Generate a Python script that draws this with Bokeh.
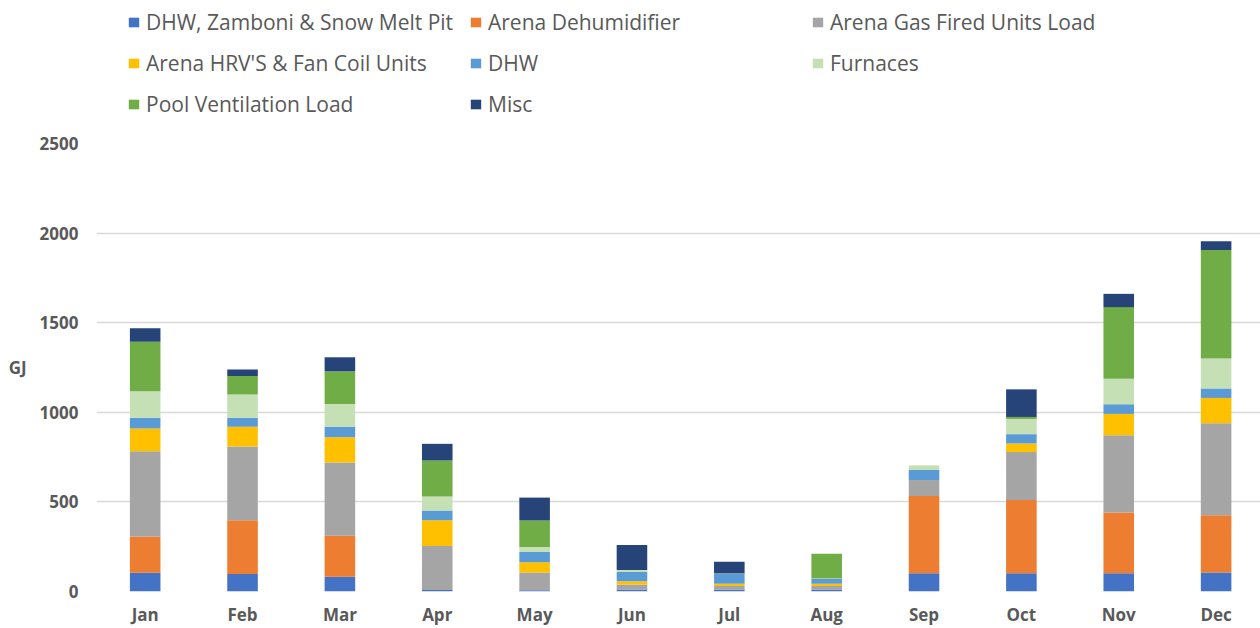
from bokeh.plotting import figure
from bokeh.layouts import column
from bokeh.models import (ColumnDataSource, Range1d, FixedTicker, Legend, LegendItem, Label)
from bokeh.embed import file_html
from bokeh.resources import INLINE

months = ["Jan", "Feb", "Mar", "Apr", "May", "Jun", "Jul", "Aug", "Sep", "Oct", "Nov", "Dec"]

series_names = [
    "DHW, Zamboni & Snow Melt Pit",
    "Arena Dehumidifier",
    "Arena Gas Fired Units Load",
    "Arena HRV'S & Fan Coil Units",
    "DHW",
    "Furnaces",
    "Pool Ventilation Load",
    "Misc",
]

dhw_zamboni = [104, 98, 83, 9, 7, 11, 11, 11, 102, 102, 102, 106]
arena_dehumidifier = [203, 300, 228, 0, 0, 0, 0, 0, 431, 409, 339, 320]
arena_gas_fired = [475, 411, 409, 245, 99, 28, 20, 20, 89, 267, 431, 513]
arena_hrv_fan_coil = [127, 111, 141, 144, 57, 18, 12, 12, 0, 48, 119, 141]
dhw = [60, 49, 59, 54, 57, 52, 55, 27, 56, 52, 54, 53]
furnaces = [148, 131, 126, 78, 28, 11, 3, 3, 26, 85, 142, 167]
pool_ventilation = [276, 102, 182, 201, 148, 0, 0, 137, 0, 11, 400, 606]
misc = [76, 37, 79, 93, 128, 139, 65, 0, 0, 154, 74, 48]

y_ticks = [0, 500, 1000, 1500, 2000, 2500]
y_label = "GJ"

colors = ["#4472C4", "#ED7D31", "#A5A5A5", "#FFC000", "#5B9BD5", "#C5E0B4", "#70AD47", "#264478"]

keys = ["s0", "s1", "s2", "s3", "s4", "s5", "s6", "s7"]
data = dict(x=list(range(len(months))))
for k, vals in zip(keys, [dhw_zamboni, arena_dehumidifier, arena_gas_fired, arena_hrv_fan_coil,
                          dhw, furnaces, pool_ventilation, misc]):
    data[k] = vals
source = ColumnDataSource(data)

FONT = "Open Sans"
GREY = "#595959"

# ---------------- legend strip (separate figure on top) ----------------
LEG_H = 133
lf = figure(width=1260, height=LEG_H, output_backend="svg", toolbar_location=None,
            x_range=Range1d(0, 1), y_range=Range1d(0, 1),
            min_border_left=0, min_border_right=0, min_border_top=0, min_border_bottom=0)
lf.axis.visible = False
lf.grid.visible = False
lf.outline_line_color = None
lf.border_fill_color = "white"
lf.background_fill_color = "white"
# swatch-only renderers (kept outside the visible range) that carry the legend colours
swatch_src = ColumnDataSource(dict(x=[-10], top=[0]))
dummy = [lf.vbar(x="x", top="top", width=0.1, source=swatch_src, color=c, line_color=None)
         for c in colors]
items = [LegendItem(label=n, renderers=[r]) for n, r in zip(series_names, dummy)]
legend = Legend(items=items, orientation="horizontal", ncols=3,
                location=(31, 15), padding=0, margin=0, spacing=12,
                glyph_width=13, glyph_height=12, label_standoff=6,
                label_width=311, label_height=29,
                label_text_font=FONT, label_text_font_size="21px", label_text_color=GREY,
                border_line_color=None, background_fill_alpha=0)
lf.add_layout(legend, "center")

# ---------------- main chart ----------------
p = figure(width=1260, height=628 - LEG_H, output_backend="svg", toolbar_location=None,
           x_range=Range1d(-0.5, 11.456), y_range=Range1d(0, y_ticks[-1]),
           min_border_left=96, min_border_right=0, min_border_top=10, min_border_bottom=37)
p.outline_line_color = None
p.background_fill_color = "white"
p.border_fill_color = "white"

renderers = p.vbar_stack(keys, x="x", width=0.314, source=source, color=colors, line_color=None)

p.xaxis.ticker = FixedTicker(ticks=list(range(len(months))))
p.xaxis.major_label_overrides = {i: m for i, m in enumerate(months)}
p.yaxis.ticker = FixedTicker(ticks=y_ticks)
for ax in (p.xaxis[0], p.yaxis[0]):
    ax.axis_line_color = None
    ax.major_tick_line_color = None
    ax.minor_tick_line_color = None
    ax.major_tick_out = 0
    ax.major_tick_in = 0
    ax.minor_tick_out = 0
    ax.minor_tick_in = 0
    ax.major_label_text_font = FONT
    ax.major_label_text_font_style = "bold"
    ax.major_label_text_font_size = "17px"
    ax.major_label_text_color = GREY
p.xaxis.major_label_standoff = 11
p.yaxis.major_label_standoff = 18

yax = p.yaxis[0]
if "axis_label_orientation" in yax.properties():
    yax.axis_label = y_label
    yax.axis_label_orientation = "horizontal"
    yax.axis_label_standoff = 10
    yax.axis_label_text_font = FONT
    yax.axis_label_text_font_style = "bold"
    yax.axis_label_text_font_size = "17px"
    yax.axis_label_text_color = GREY
else:
    p.add_layout(Label(x=-1.309, y=1219, text=y_label, text_align="center", text_baseline="middle",
                       text_font=FONT, text_font_style="bold", text_font_size="17px",
                       text_color=GREY))

p.xgrid.grid_line_color = None
p.ygrid.grid_line_color = "#D9D9D9"
p.ygrid.grid_line_width = 1.5
p.ygrid.ticker = FixedTicker(ticks=y_ticks)

layout = column(lf, p, spacing=0)
open("out.html", "w").write(file_html(layout, INLINE))
